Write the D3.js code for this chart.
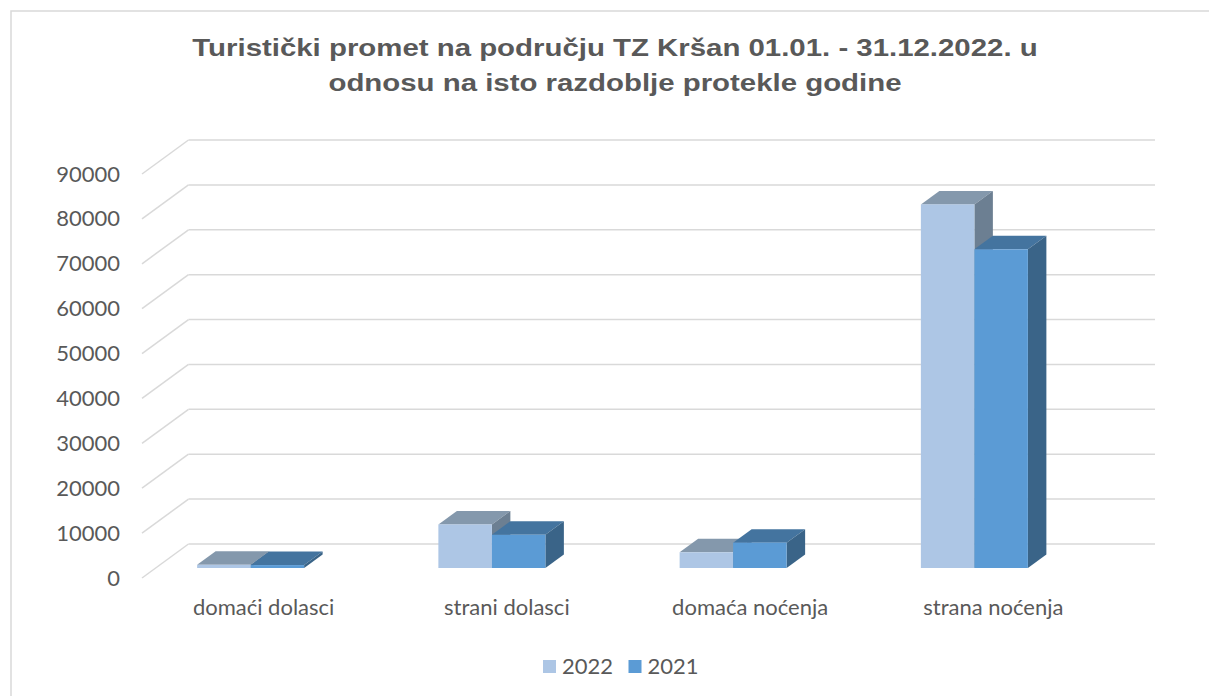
<!DOCTYPE html>
<html>
<head>
<meta charset="utf-8">
<script src="https://cdn.jsdelivr.net/npm/d3@7"></script>
<style>
  body { margin: 0; background: #ffffff; }
  svg { display: block; }
  .title { font-family: 'Liberation Sans', Arial, sans-serif; font-weight: bold; font-size: 24.5px; }
  .lbl { font-family: Lato, 'Open Sans', sans-serif; font-size: 22px; }
</style>
</head>
<body>
<div id="chart"></div>
<script>
// data
var categories = ['domaći dolasci', 'strani dolasci', 'domaća noćenja', 'strana noćenja']
var seriesNames = ['2022', '2021']
var values2022 = [700, 9700, 3500, 81000]
var values2021 = [650, 7400, 5650, 71000]
var yTicks = [0, 10000, 20000, 30000, 40000, 50000, 60000, 70000, 80000, 90000]
var titleLines = ['Turistički promet na području TZ Kršan 01.01. - 31.12.2022. u',
                  'odnosu na isto razdoblje protekle godine']

var width = 1209, height = 696
var textColor = '#595959'
var gridColor = '#d9d9d9'

// colours per series: front, top, side
var colors = {
  '2022': { front: '#adc6e5', top: '#8498ac', side: '#6c7f92' },
  '2021': { front: '#5b9bd5', top: '#44749f', side: '#3a6488' }
}

// oblique 3d setup
var floorFrontY = 578, floorFrontX = 142
var depthX = 46.5, depthY = -34
var barDepthX = 18.5, barDepthY = -13.5
var barBaseY = 568
var plotH = 404

var svg = d3.select('#chart').append('svg')
  .attr('width', width)
  .attr('height', height)

// chart border
svg.append('rect')
  .attr('x', 11).attr('y', 11)
  .attr('width', 1400).attr('height', 900)
  .attr('fill', 'none')
  .attr('stroke', gridColor)
  .attr('stroke-width', 1.5)

// title (the source picture is stretched sideways, so stretch it too)
svg.append('text')
  .attr('class', 'title')
  .attr('text-anchor', 'middle')
  .attr('fill', textColor)
  .attr('transform', 'translate(615,0) scale(1.2,1)')
  .selectAll('tspan')
  .data(titleLines)
  .enter()
  .append('tspan')
    .attr('x', 0)
    .attr('y', function (d, i) { return 56 + i * 35 })
    .text(function (d) { return d })

// y scales: one on the front edge of the floor, one for the bar faces
var y = d3.scaleLinear().domain([0, 90000]).range([floorFrontY, floorFrontY - plotH])
var yBar = d3.scaleLinear().domain([0, 90000]).range([barBaseY, barBaseY - plotH])

var grid = svg.append('g')
  .attr('stroke', gridColor)
  .attr('stroke-width', 1.5)
  .attr('fill', 'none')

// side wall lines
grid.selectAll('line.side')
  .data(yTicks)
  .enter()
  .append('line')
    .attr('class', 'side')
    .attr('x1', floorFrontX)
    .attr('y1', function (d) { return y(d) })
    .attr('x2', floorFrontX + depthX)
    .attr('y2', function (d) { return y(d) + depthY })

// back wall lines
grid.selectAll('line.back')
  .data(yTicks)
  .enter()
  .append('line')
    .attr('class', 'back')
    .attr('x1', floorFrontX + depthX)
    .attr('y1', function (d) { return y(d) + depthY })
    .attr('x2', 1155)
    .attr('y2', function (d) { return y(d) + depthY })

// Y axis labels
var yAxis = svg.append('g')
  .attr('transform', 'translate(128,0)')
  .call(d3.axisLeft(y).tickValues(yTicks).tickSize(0).tickPadding(8).tickFormat(d3.format('d')))
yAxis.select('.domain').remove()
yAxis.attr('font-family', null).attr('font-size', null)
yAxis.selectAll('text')
  .attr('class', 'lbl')
  .attr('fill', textColor)

// x positions
var xLabel = d3.scaleBand().domain(categories).range([142, 1115])
var xBar = d3.scaleBand().domain(categories).range([130, 1095])
var groupW = 107
var xSeries = d3.scaleBand().domain(seriesNames).range([0, groupW])

// category labels
svg.append('g')
  .selectAll('text')
  .data(categories)
  .enter()
  .append('text')
    .attr('class', 'lbl')
    .attr('x', function (d) { return xLabel(d) + xLabel.bandwidth() / 2 })
    .attr('y', 615)
    .attr('text-anchor', 'middle')
    .attr('fill', textColor)
    .text(function (d) { return d })

// bars
var barData = []
categories.forEach(function (c, i) {
  barData.push({ cat: c, series: '2022', value: values2022[i] })
  barData.push({ cat: c, series: '2021', value: values2021[i] })
})

var bars = svg.append('g')
  .selectAll('g')
  .data(barData)
  .enter()
  .append('g')

function barX (d) {
  return xBar(d.cat) + xBar.bandwidth() / 2 - groupW / 2 + xSeries(d.series)
}

// top face
bars.append('path')
  .attr('fill', function (d) { return colors[d.series].top })
  .attr('d', function (d) {
    var x0 = barX(d), x1 = x0 + xSeries.bandwidth(), yt = yBar(d.value)
    return 'M' + x0 + ',' + yt + 'L' + (x0 + barDepthX) + ',' + (yt + barDepthY) +
      'L' + (x1 + barDepthX) + ',' + (yt + barDepthY) + 'L' + x1 + ',' + yt + 'Z'
  })

// side face
bars.append('path')
  .attr('fill', function (d) { return colors[d.series].side })
  .attr('d', function (d) {
    var x1 = barX(d) + xSeries.bandwidth(), yt = yBar(d.value), yb = yBar(0)
    return 'M' + x1 + ',' + yt + 'L' + (x1 + barDepthX) + ',' + (yt + barDepthY) +
      'L' + (x1 + barDepthX) + ',' + (yb + barDepthY) + 'L' + x1 + ',' + yb + 'Z'
  })

// front face
bars.append('rect')
  .attr('x', barX)
  .attr('y', function (d) { return yBar(d.value) })
  .attr('width', xSeries.bandwidth())
  .attr('height', function (d) { return yBar(0) - yBar(d.value) })
  .attr('fill', function (d) { return colors[d.series].front })

// legend
var legend = svg.append('g')
  .selectAll('g')
  .data(seriesNames)
  .enter()
  .append('g')
    .attr('transform', function (d, i) { return 'translate(' + (543 + i * 85.5) + ',660)' })

legend.append('rect')
  .attr('width', 13)
  .attr('height', 13)
  .attr('fill', function (d) { return colors[d].front })

legend.append('text')
  .attr('class', 'lbl')
  .attr('x', 19)
  .attr('y', 14)
  .attr('fill', textColor)
  .text(function (d) { return d })
</script>
</body>
</html>
